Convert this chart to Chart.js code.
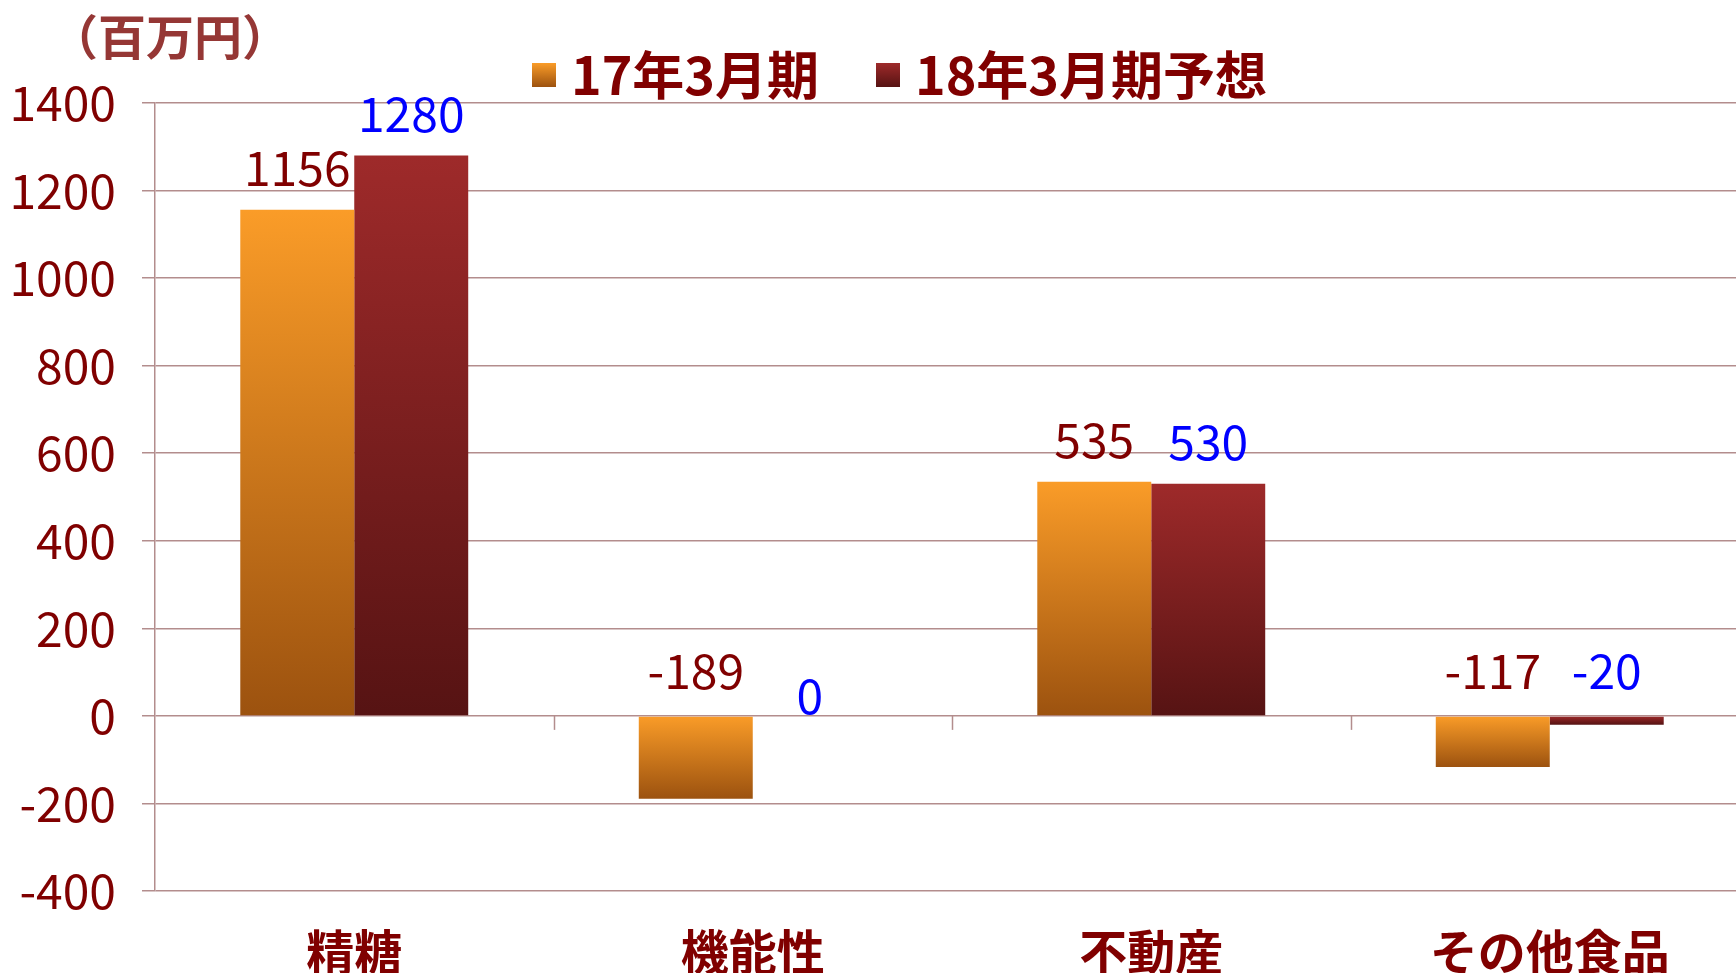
<!DOCTYPE html>
<html>
<head>
<meta charset="utf-8">
<script src="https://cdn.jsdelivr.net/npm/chart.js@4.4.1/dist/chart.umd.min.js"></script>
<style>
  html, body { margin: 0; padding: 0; background: #fff; overflow: hidden; }
  #wrap { width: 1750px; height: 973px; }
</style>
</head>
<body>
<div id="wrap"><canvas id="segmentChart"></canvas></div>
<script>
const categories = ["精糖", "機能性", "不動産", "その他食品"];
const seriesNames = ["17年3月期", "18年3月期予想"];
const profit17 = [1156, -189, 535, -117];
const profit18 = [1280, 0, 530, -20];
const yMin = -400;
const yMax = 1400;
const yStep = 200;
const unitLabel = "（百万円）";

const darkRed = "#800000";
const gridColor = "#b38d8d";
const labelColors = ["#800000", "#0000ff"];
const fontFamily = "'Noto Sans CJK JP', 'Noto Sans', sans-serif";
const barColors = [
  ["#fa9c28", "#9c520f"],
  ["#9e2a2a", "#561313"],
];

// each bar gets its own top-to-bottom gradient
function barGradient(top, bottom) {
  return (c) => {
    const chart = c.chart;
    const y = chart.scales.y;
    if (!y || c.raw === undefined) return top;
    const a = y.getPixelForValue(Math.max(c.raw, 0));
    const b = y.getPixelForValue(Math.min(c.raw, 0));
    if (b - a < 1) return top;
    const g = chart.ctx.createLinearGradient(0, a, 0, b);
    g.addColorStop(0, top);
    g.addColorStop(1, bottom);
    return g;
  };
}

function legendIcon(top, bottom) {
  const cv = document.createElement("canvas");
  cv.width = 24;
  cv.height = 24;
  const cx = cv.getContext("2d");
  const g = cx.createLinearGradient(0, 0, 0, 24);
  g.addColorStop(0, top);
  g.addColorStop(1, bottom);
  cx.fillStyle = g;
  cx.fillRect(0, 0, 24, 24);
  return cv;
}
const legendIcons = barColors.map((c) => legendIcon(c[0], c[1]));

const labelPlugin = {
  id: "barLabels",
  afterLayout(chart) {
    // legend sits a little right of the canvas centre in the original
    if (chart.legend) chart.legend.left += 61;
  },
  afterDatasetsDraw(chart) {
    const { ctx, scales: { x, y } } = chart;
    const zero = y.getPixelForValue(0);
    ctx.save();

    // small category ticks hanging from the zero line
    ctx.strokeStyle = gridColor;
    ctx.lineWidth = 1.5;
    for (let i = 0; i < categories.length - 1; i++) {
      const px = Math.round((x.getPixelForValue(i) + x.getPixelForValue(i + 1)) / 2) + 0.5;
      ctx.beginPath();
      ctx.moveTo(px, zero);
      ctx.lineTo(px, zero + 14);
      ctx.stroke();
    }

    ctx.font = `48px ${fontFamily}`;
    ctx.textAlign = "center";
    ctx.textBaseline = "alphabetic";
    chart.data.datasets.forEach((ds, di) => {
      const meta = chart.getDatasetMeta(di);
      ctx.fillStyle = labelColors[di];
      meta.data.forEach((bar, i) => {
        const v = ds.data[i];
        let ty;
        if (v > 0) ty = bar.y - 24;
        else if (v === 0) ty = bar.y - 2;
        else ty = bar.base - 28;
        ctx.fillText(String(v), bar.x, ty);
      });
    });

    ctx.font = `bold 48px ${fontFamily}`;
    ctx.fillStyle = "#953735";
    ctx.textAlign = "left";
    ctx.textBaseline = "middle";
    ctx.fillText(unitLabel, 50, 37);
    ctx.restore();
  },
};

new Chart(document.getElementById("segmentChart"), {
  type: "bar",
  data: {
    labels: categories,
    datasets: [
      { label: seriesNames[0], data: profit17, backgroundColor: barGradient(barColors[0][0], barColors[0][1]) },
      { label: seriesNames[1], data: profit18, backgroundColor: barGradient(barColors[1][0], barColors[1][1]) },
    ],
  },
  options: {
    responsive: true,
    maintainAspectRatio: false,
    animation: false,
    devicePixelRatio: 1,
    layout: { padding: { top: -19, right: 1, left: 0, bottom: 0 } },
    datasets: { bar: { categoryPercentage: 0.572, barPercentage: 1 } },
    plugins: {
      tooltip: { enabled: false },
      legend: {
        position: "top",
        maxHeight: 122,
        labels: {
          usePointStyle: true,
          boxWidth: 2,
          boxHeight: 24,
          padding: 68,
          color: darkRed,
          font: { family: fontFamily, size: 52, weight: "bold" },
          generateLabels: (chart) =>
            chart.data.datasets.map((ds, i) => ({
              text: ds.label,
              pointStyle: legendIcons[i],
              fillStyle: barColors[i][0],
              strokeStyle: "transparent",
              lineWidth: 0,
              fontColor: darkRed,
              hidden: false,
              datasetIndex: i,
            })),
        },
      },
    },
    scales: {
      x: {
        grid: { display: false, drawTicks: false },
        border: { display: false },
        ticks: {
          color: darkRed,
          font: { family: fontFamily, size: 48, weight: "bold" },
          padding: 32,
        },
        afterFit: (s) => { s.height = 82; },
      },
      y: {
        min: yMin,
        max: yMax,
        ticks: {
          stepSize: yStep,
          color: darkRed,
          font: { family: fontFamily, size: 48 },
          padding: 26,
          callback: (v) => String(v),
        },
        grid: { color: gridColor, lineWidth: 1.5, tickLength: 13 },
        border: { color: gridColor, width: 1.5 },
        afterFit: (s) => { s.width = 155; },
      },
    },
  },
  plugins: [labelPlugin],
});
</script>
</body>
</html>
